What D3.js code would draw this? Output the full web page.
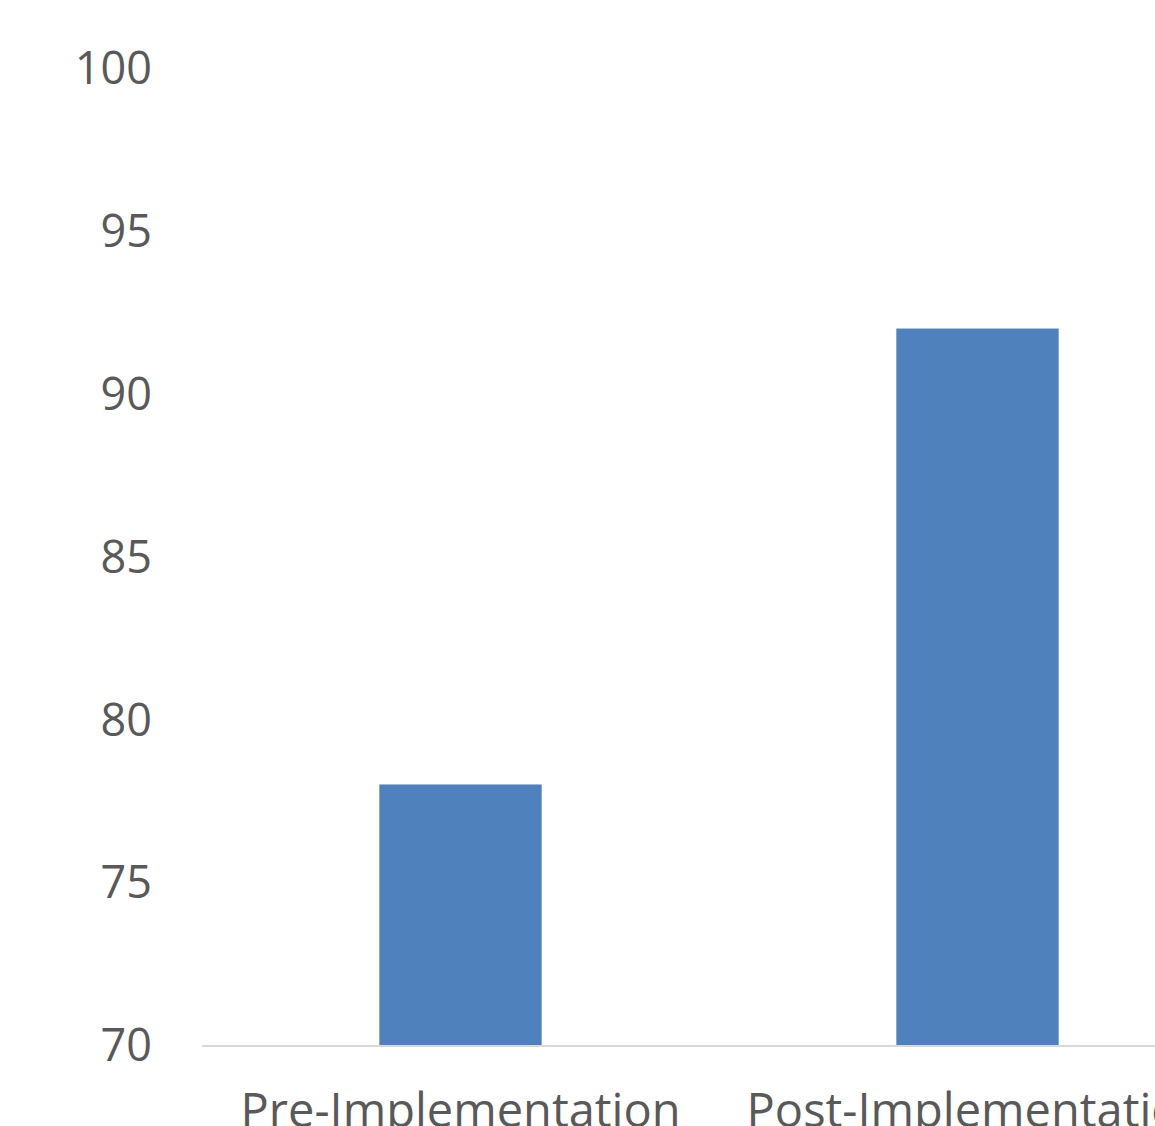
<!DOCTYPE html>
<html>
<head>
<meta charset="utf-8">
<script src="https://cdn.jsdelivr.net/npm/d3@7"></script>
<style>
    html, body { margin: 0; padding: 0; background: #fff; overflow: hidden; }
    svg { display: block; }
</style>
</head>
<body>
<script>
const categories = ["Pre-Implementation", "Post-Implementation"];
const values = [78, 92];
const yTicks = [70, 75, 80, 85, 90, 95, 100];

const width = 1155;
const height = 1126;

const svg = d3.select(document.body).append("svg")
    .attr("width", width)
    .attr("height", height);

// plot runs off the right edge, like the cropped original
const x = d3.scaleBand()
    .domain(categories)
    .range([202, 1236])
    .padding(0);

const y = d3.scaleLinear()
    .domain([70, 100])
    .range([1045, 68]);

const barWidth = x.bandwidth() * 0.314;

const font = "'Open Sans', 'Noto Sans', sans-serif";

// y tick labels
svg.append("g")
    .selectAll("text")
    .data(yTicks)
    .join("text")
    .attr("x", 152)
    .attr("y", d => y(d))
    .attr("dy", "0.36em")
    .attr("text-anchor", "end")
    .attr("fill", "#595959")
    .style("font-family", font)
    .style("font-size", "45px")
    .text(d => d);

// bars
svg.append("g")
    .selectAll("rect")
    .data(values)
    .join("rect")
    .attr("x", (d, i) => x(categories[i]) + x.bandwidth() / 2 - barWidth / 2)
    .attr("y", d => y(d))
    .attr("width", barWidth)
    .attr("height", d => y(70) - y(d))
    .attr("fill", "#4f81bd");

// baseline
svg.append("line")
    .attr("x1", x.range()[0])
    .attr("x2", x.range()[1])
    .attr("y1", y(70) + 1)
    .attr("y2", y(70) + 1)
    .attr("stroke", "#d9d9d9")
    .attr("stroke-width", 2);

// category labels (cut by the bottom edge, as in the original)
svg.append("g")
    .selectAll("text")
    .data(categories)
    .join("text")
    .attr("x", d => x(d) + x.bandwidth() / 2)
    .attr("y", 1127)
    .attr("text-anchor", "middle")
    .attr("fill", "#595959")
    .style("font-family", font)
    .style("font-size", "47px")
    .text(d => d);
</script>
</body>
</html>
